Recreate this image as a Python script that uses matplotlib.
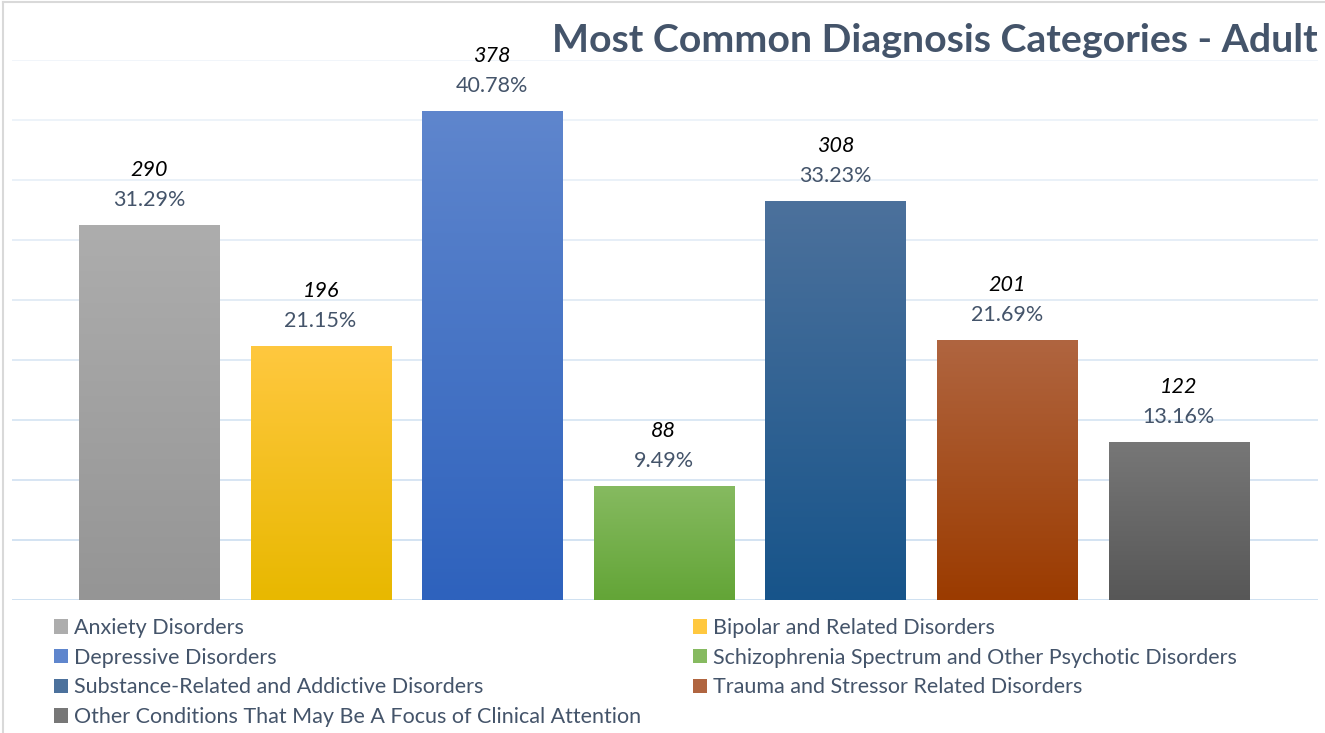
import matplotlib.pyplot as plt
import numpy as np
from matplotlib.colors import LinearSegmentedColormap
from matplotlib.patches import Patch
from matplotlib.lines import Line2D

categories = ['Anxiety Disorders', 'Bipolar and Related Disorders',
              'Depressive Disorders',
              'Schizophrenia Spectrum and Other Psychotic Disorders',
              'Substance-Related and Addictive Disorders',
              'Trauma and Stressor Related Disorders',
              'Other Conditions That May Be A Focus of Clinical Attention']
counts = [290, 196, 378, 88, 308, 201, 122]
percents = [31.29, 21.15, 40.78, 9.49, 33.23, 21.69, 13.16]

top_colors = ['#adadad', '#ffc83f', '#5f86cd', '#86ba60', '#4c719c', '#b06540', '#777777']
bottom_colors = ['#959595', '#e8b800', '#2e62bd', '#63a537', '#17548a', '#9b3b00', '#575757']

plt.rcParams['font.family'] = ['Lato', 'DejaVu Sans']
text_color = '#44546a'

fig = plt.figure(figsize=(13.25, 7.33), dpi=100)
ax = fig.add_axes([12 / 1325, 133 / 733, 1306 / 1325, 540 / 733])

x = np.arange(len(categories))
bars = ax.bar(x, percents, width=0.816, color='none', edgecolor='none', zorder=3)

# gradient fill for each bar
grad = np.linspace(0, 1, 256).reshape(-1, 1)
for bar, c_top, c_bot in zip(bars, top_colors, bottom_colors):
    cmap = LinearSegmentedColormap.from_list('g', [c_bot, c_top])
    x0, y0 = bar.get_x(), bar.get_y()
    w, h = bar.get_width(), bar.get_height()
    im = ax.imshow(grad, cmap=cmap, aspect='auto', origin='lower',
                   extent=(x0, x0 + w, y0, y0 + h), zorder=3)
    im.set_clip_path(bar)

for xi, p, n in zip(x, percents, counts):
    ax.annotate(f'{p:.2f}%', (xi, p), xytext=(0, 25), textcoords='offset pixels',
                ha='center', va='center', fontsize=15.5, color=text_color)
    ax.annotate(str(n), (xi, p), xytext=(0, 55), textcoords='offset pixels',
                ha='center', va='center', fontsize=15.5, color='black', style='italic')

ax.set_xlim(-0.798, 6.812)
ax.set_ylim(0, 45)
ax.set_yticks(np.arange(0, 46, 5))
ax.set_xticks([])
ax.tick_params(left=False, labelleft=False)
ax.yaxis.grid(True, linewidth=1.3, zorder=0)
ax.set_axisbelow(True)
gl = ax.get_ygridlines()
c_low = np.array([0.80, 0.87, 0.94])
c_high = np.array([0.94, 0.96, 0.98])
for i, line in enumerate(gl):
    t = i / (len(gl) - 1)
    line.set_color(tuple(c_low * (1 - t) + c_high * t))
for s in ax.spines.values():
    s.set_visible(False)

fig.text(1318 / 1325, 1 - 41 / 733, 'Most Common Diagnosis Categories - Adult',
         ha='right', va='center', fontsize=28.3, fontweight='bold', color=text_color)

# legend, row-wise order
order = [0, 2, 4, 6, 1, 3, 5]
handles = [Patch(facecolor=top_colors[i], edgecolor='none') for i in order]
labels = [categories[i] for i in order]
leg = fig.legend(handles, labels, ncol=2, loc='upper left',
                 bbox_to_anchor=(54 / 1325, 1 - 618 / 733), frameon=False,
                 fontsize=15.5, handlelength=0.65, handleheight=0.65,
                 handletextpad=0.28, labelspacing=0.45, columnspacing=2.4,
                 borderpad=0, borderaxespad=0)
for t in leg.get_texts():
    t.set_color(text_color)

# outer frame
fig.add_artist(Line2D([3 / 1325, 1], [1 - 2 / 733, 1 - 2 / 733],
                      transform=fig.transFigure, color='#d9d9d9', linewidth=1.5))
fig.add_artist(Line2D([3 / 1325, 3 / 1325], [0, 1 - 2 / 733],
                      transform=fig.transFigure, color='#d9d9d9', linewidth=1.5))

fig.savefig('out.png', dpi=100)
